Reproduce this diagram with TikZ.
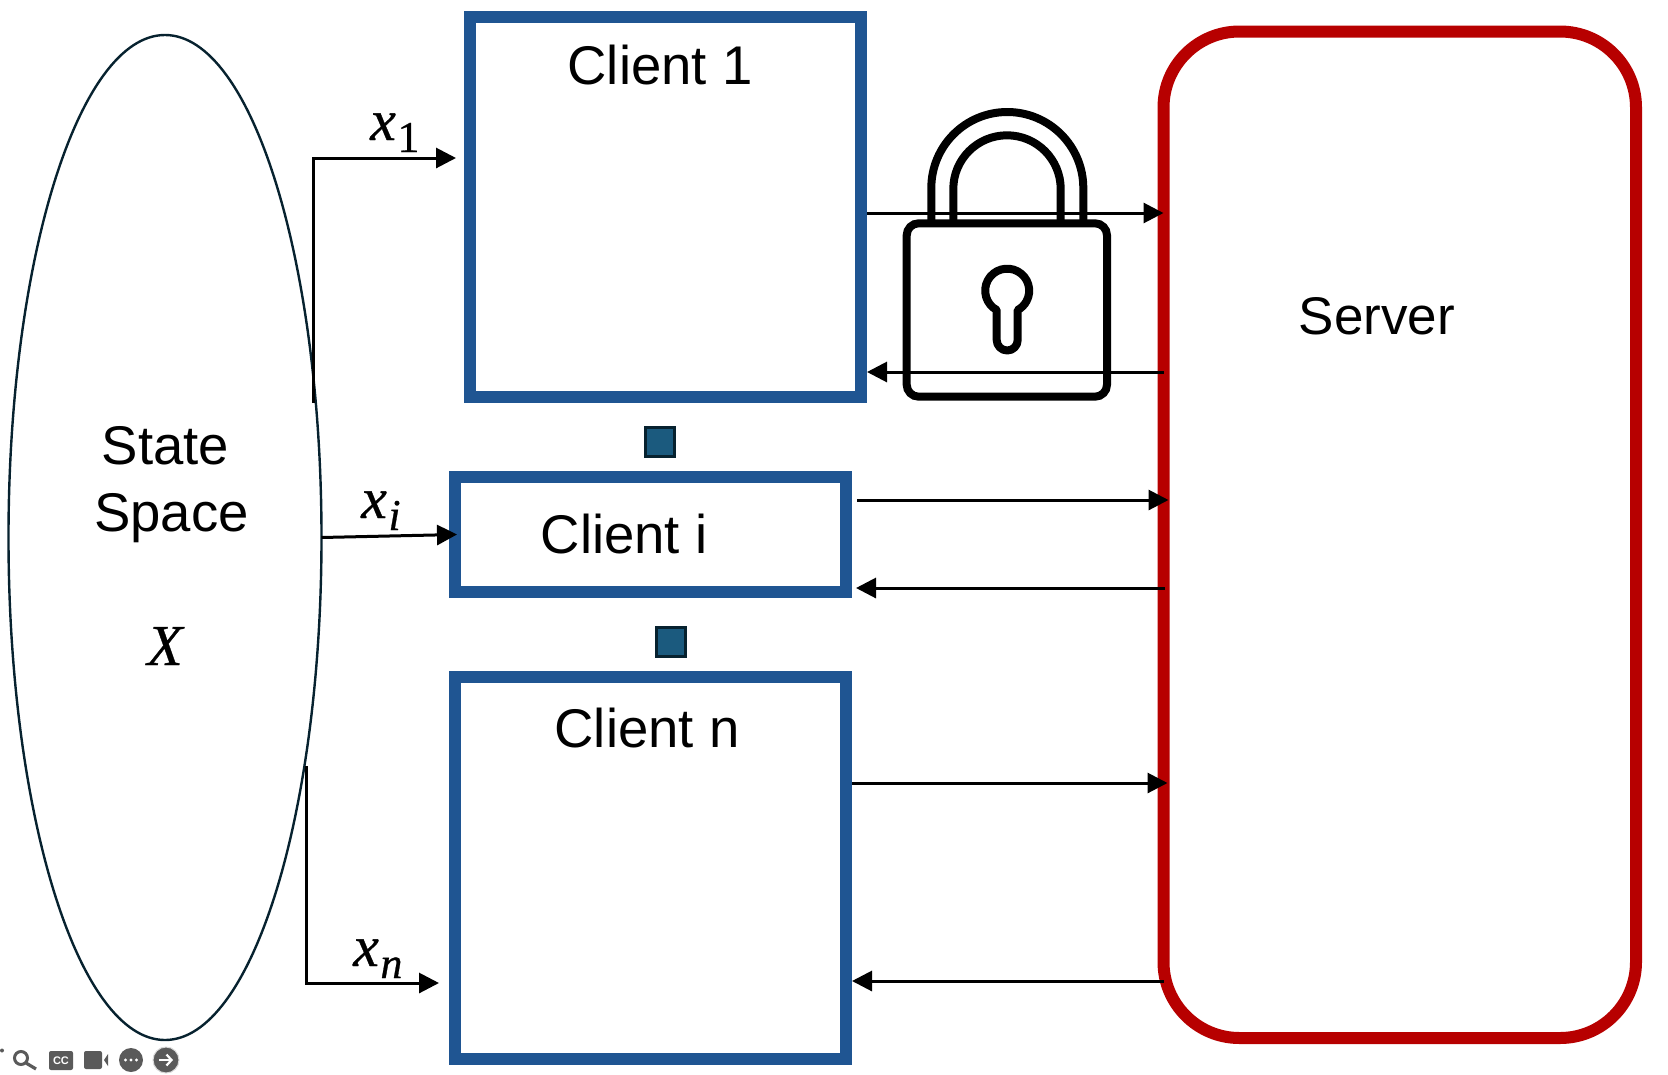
\documentclass[tikz,border=0pt]{standalone}
\usepackage{fontspec}
\setmainfont{Liberation Sans}
\newfontfamily\mfont[ItalicFeatures={FakeBold=0.6},UprightFeatures={FakeBold=0.6}]{Liberation Serif}
\usetikzlibrary{arrows.meta,calc,shapes.geometric}
\definecolor{boxblue}{HTML}{1F5592}
\definecolor{srvred}{HTML}{B70000}
\definecolor{dotfill}{HTML}{1B5A7E}
\definecolor{inkdark}{HTML}{07222F}
\definecolor{icongray}{HTML}{5A5A5A}
\newcommand{\mainsz}{\fontsize{54.5}{60}\selectfont}
\newcommand{\varx}[1]{{\mfont\fontsize{58}{60}\selectfont\itshape x}\kern1.5pt\raisebox{-12pt}{\mfont\fontsize{44}{48}\selectfont #1}}
\tikzset{
  x=1pt,y=-1pt,
  clientbox/.style={draw=boxblue,line width=12pt,rectangle,inner sep=0pt},
  serverbox/.style={draw=srvred,line width=12pt,rectangle,rounded corners=76pt,inner sep=0pt,outer sep=0pt},
  spaceell/.style={draw=inkdark,line width=2.4pt,ellipse,inner sep=0pt,outer sep=0pt},
  lbl/.style={font=\mainsz,inner sep=0pt,anchor=base},
  mathlbl/.style={inner sep=0pt,anchor=base west},
  arr/.style={line width=3pt,-{Triangle[length=20pt,width=20pt]}},
  lockline/.style={line width=8pt,draw=black},
  dotsq/.style={draw=inkdark,line width=3pt,fill=dotfill,rectangle,inner sep=0pt,minimum size=29pt},
}
\begin{document}
\begin{tikzpicture}
\useasboundingbox (0,0) rectangle (1668,1074);
% ellipse
\node[spaceell,minimum width=313pt,minimum height=1005pt] (ell) at (165,537.5) {};
% boxes
\node[clientbox,minimum width=391pt,minimum height=380pt] (c1) at (665.5,207) {};
\node[clientbox,minimum width=391pt,minimum height=115pt] (ci) at (650.5,534.5) {};
\node[clientbox,minimum width=391pt,minimum height=382pt] (cn) at (650.5,868) {};
\node[serverbox,minimum width=472.5pt,minimum height=1006.5pt] (srv) at (1399.75,534.75) {};
% dots
\node[dotsq] (d1) at (660,442) {};
\node[dotsq] (d2) at (671,641.5) {};
% labels
\node[lbl] (t1) at (660,84.5) {Client 1};
\node[lbl] (ti) at (624,553) {Client i};
\node[lbl] (tn) at (647,747) {Client n};
\node[lbl,font=\fontsize{53}{60}\selectfont] (tsrv) at (1377,334) {Server};
\node[lbl] (tstate) at (165.5,464) {State};
\node[lbl] (tspace) at (171.5,531) {Space};
\node[mathlbl] (tx) at (147,665) {\mfont\fontsize{58}{60}\selectfont\itshape X};
\node[mathlbl] (x1) at (370,140) {\varx{1}};
\node[mathlbl] (xi) at (361,518) {\varx{\itshape i}};
\node[mathlbl] (xn) at (353,966) {\varx{\itshape n}};
% lock
\draw[lockline,rounded corners=12pt] (906.7,223.3) rectangle (1107,396.7);
\draw[lockline] (931.3,223) -- (931.3,188) arc[start angle=180,end angle=0,radius=76pt] -- (1083.3,223);
\draw[lockline] (953.3,223) -- (953.3,189) arc[start angle=180,end angle=0,radius=53.7pt] -- (1060.7,223);
\draw[lockline,line join=round] (996.7,310) arc[start angle=241.5,end angle=-61.5,radius=22pt] -- (1017.7,340) arc[start angle=0,end angle=-180,radius=10.5pt] -- cycle;
% connectors client-server
\draw[arr] (c1.east |- 0,213) -- (srv.west |- 0,213);
\draw[arr] (srv.west |- 0,372) -- (c1.east |- 0,372);
\draw[arr] ([xshift=5pt]ci.east |- 0,500) -- ([xshift=5pt]srv.west |- 0,500);
\draw[arr] ([xshift=1pt]srv.west |- 0,588) -- ([xshift=4pt]ci.east |- 0,588);
\draw[arr] (cn.east |- 0,783) -- ([xshift=4pt]srv.west |- 0,783);
\draw[arr] (srv.west |- 0,981) -- (cn.east |- 0,981);
% connectors state space - clients
\draw[arr,line join=miter] (313,403) -- (313,158) -- ([xshift=-8pt]c1.west |- 0,158);
\draw[arr] (ell.east) -- ([xshift=8pt]ci.west);
\draw[arr,line join=miter] (306,766) -- (306,983) -- ([xshift=-10pt]cn.west |- 0,983);
% player icons
\draw[icongray,line width=3pt] (21,1058) circle[radius=6.5pt];
\draw[icongray,line width=3.2pt] (26,1063) -- (36,1069);
\node[fill=icongray,rounded corners=2pt,minimum width=24pt,minimum height=19pt,inner sep=0pt,text=white,font=\fontsize{11}{12}\selectfont\bfseries] (cc) at (61,1060.5) {CC};
\node[fill=icongray,rounded corners=2pt,minimum width=18pt,minimum height=18pt,inner sep=0pt] (cam) at (93,1060) {};
\fill[icongray] (104,1060) -- (108,1054) -- (108,1066) -- cycle;
\node[circle,fill=icongray,minimum size=24pt,inner sep=0pt] (more) at (131,1060) {};
\fill[white] (125.5,1060) circle[radius=1.6pt] (131,1060) circle[radius=1.6pt] (136.5,1060) circle[radius=1.6pt];
\node[circle,fill=icongray,draw=black!15,line width=1pt,minimum size=26pt,inner sep=0pt] (next) at (166,1060) {};
\draw[white,line width=2.2pt,-{Straight Barb[length=5pt,width=11pt]}] (159,1060) -- (173,1060);
\fill[icongray] (2,1050.5) circle[radius=2pt];
\end{tikzpicture}
\end{document}
